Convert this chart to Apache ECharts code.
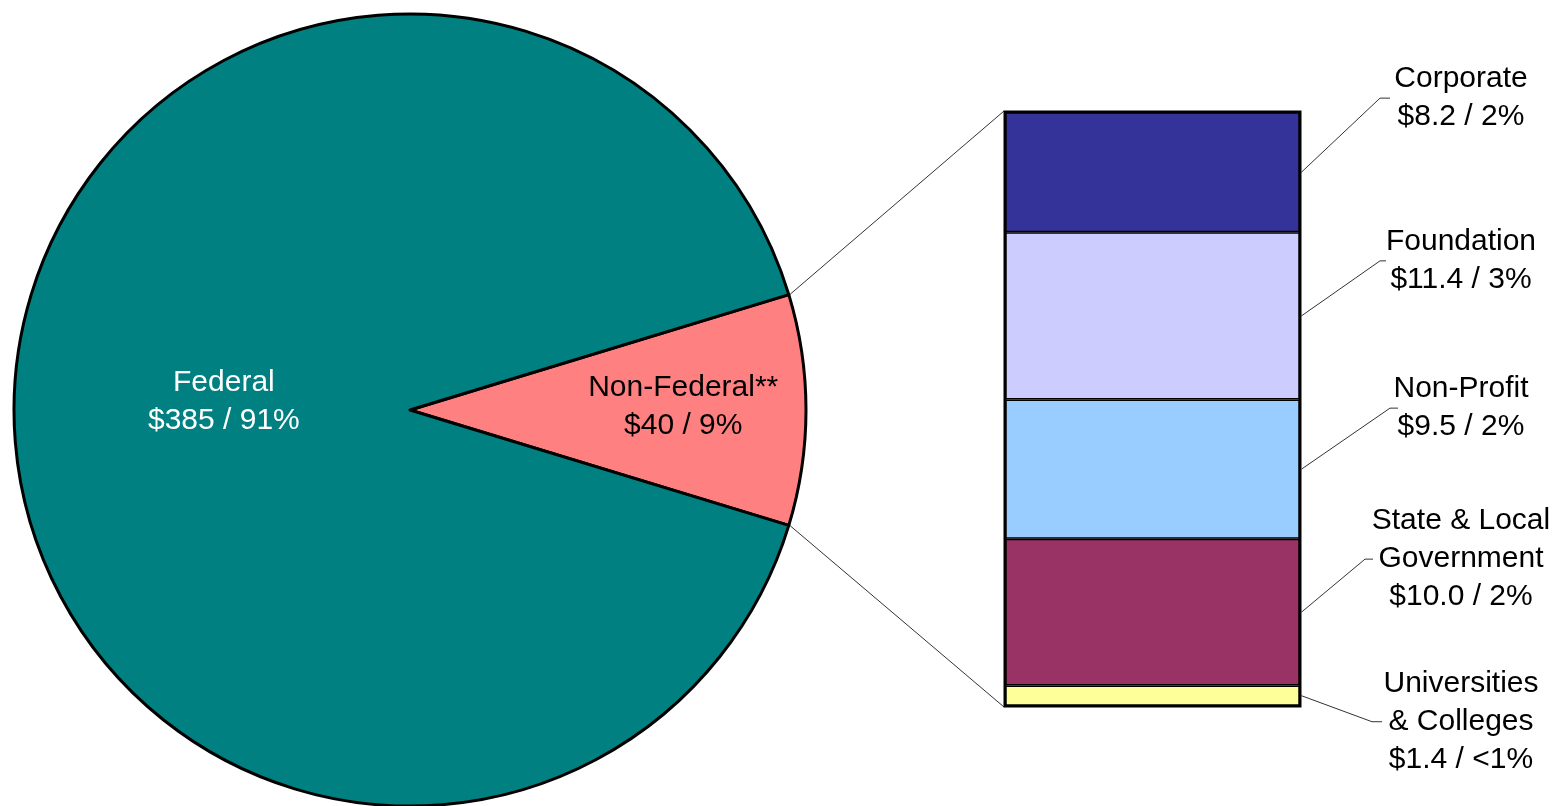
<!DOCTYPE html>
<html><head><meta charset="utf-8">
<script src="https://cdn.jsdelivr.net/npm/echarts@6/dist/echarts.min.js"></script>
<style>html,body{margin:0;padding:0;background:#fff;overflow:hidden}#c{width:1557px;height:806px}</style>
</head><body><div id="c"></div>
<script>
// ---- data ----
const pieNames = ['Non-Federal**', 'Federal'];
const pieValues = [40, 385];
const pieLabels = ['$40 / 9%', '$385 / 91%'];
// bottom to top of the stacked bar
const barNames = ['Universities\n& Colleges', 'State & Local\nGovernment', 'Non-Profit', 'Foundation', 'Corporate'];
const barValues = [1.4, 10.0, 9.5, 11.4, 8.2];
const barLabels = ['$1.4 / <1%', '$10.0 / 2%', '$9.5 / 2%', '$11.4 / 3%', '$8.2 / 2%'];

// ---- styles / layout ----
const FONT = "'Liberation Sans', Arial, sans-serif";
const pieColors = ['#FF8080', '#008080'];
const pieTextColors = ['#000', '#fff'];
const pieLabelRadius = [0.69, 0.47];   // fraction of radius along the slice's mid angle
const pieLabelDy = [-3, -8];
const barColors = ['#FFFF99', '#993366', '#99CCFF', '#CCCCFF', '#333399'];
const labelDy = [26, -53, -61, -55, -74];       // label offset from segment centre
const leaderX = [[72, 82], [65, 73], [90, 98], [80, 86], [80, 90]]; // diagonal end, horizontal end (from bar right)
const CX = 410, CY = 410, R = 396;
const G = {left: 1005, top: 112, width: 295, height: 594};
const LABEL_CX = 1461;

const total = pieValues.reduce((a, b) => a + b, 0);
const half = pieValues[0] / total * 180;
const barTotal = barValues.reduce((a, b) => a + b, 0);

// mid angles (radians, math convention) of the slices
const midAngles = [];
{
  let a = half;
  pieValues.forEach(v => { const span = v / total * 360; midAngles.push((a - span / 2) * Math.PI / 180); a -= span; });
}

const chart = echarts.init(document.getElementById('c'), null, {renderer: 'canvas'});

const series = [{
  type: 'pie',
  center: [CX, CY],
  radius: [0, R],
  startAngle: half,
  clockwise: true,
  animation: false,
  silent: true,
  data: pieNames.map((n, i) => ({
    name: n, value: pieValues[i],
    itemStyle: {color: pieColors[i]},
    label: {color: pieTextColors[i]}
  })),
  itemStyle: {borderColor: '#000', borderWidth: 3},
  label: {
    show: true, position: 'inside', fontFamily: FONT, fontSize: 30, lineHeight: 38,
    align: 'center', verticalAlign: 'middle',
    formatter: p => p.name + '\n' + pieLabels[p.dataIndex]
  },
  labelLayout: p => {
    const i = p.dataIndex, k = pieLabelRadius[i] * R;
    return {x: CX + k * Math.cos(midAngles[i]), y: CY - k * Math.sin(midAngles[i]) + pieLabelDy[i], align: 'center', verticalAlign: 'middle'};
  },
  emphasis: {disabled: true}
}];

barNames.forEach((n, i) => {
  series.push({
    type: 'bar', name: n, stack: 'nf', barWidth: '100%',
    animation: false, silent: true,
    data: [barValues[i]],
    itemStyle: {color: barColors[i], borderColor: '#000', borderWidth: 1.5},
    label: {
      show: true, position: 'right', distance: LABEL_CX - (G.left + G.width),
      align: 'center', verticalAlign: 'middle', offset: [0, labelDy[i]],
      fontFamily: FONT, fontSize: 30, lineHeight: 38, color: '#000',
      formatter: () => n + '\n' + barLabels[i]
    },
    emphasis: {disabled: true}
  });
});

chart.setOption({
  backgroundColor: '#fff',
  grid: G,
  xAxis: {type: 'category', data: [''], show: false},
  yAxis: {type: 'value', min: 0, max: barTotal, show: false},
  series: series
});

// ---- connector & leader lines, computed from the library's scales ----
const rad = half * Math.PI / 180;
const Rout = R + 1.5;
const pTop = [CX + Rout * Math.cos(rad), CY - Rout * Math.sin(rad)];
const pBot = [CX + Rout * Math.cos(rad), CY + Rout * Math.sin(rad)];
const yPix = v => chart.convertToPixel({xAxisIndex: 0, yAxisIndex: 0}, [0, v])[1];
const yTop = yPix(barTotal), yBot = yPix(0);
const graphics = [
  {type: 'line', shape: {x1: pTop[0], y1: pTop[1], x2: G.left - 1, y2: yTop - 1}, style: {stroke: '#333', lineWidth: 1}, silent: true},
  {type: 'line', shape: {x1: pBot[0], y1: pBot[1], x2: G.left - 1, y2: yBot + 1}, style: {stroke: '#333', lineWidth: 1}, silent: true},
  {type: 'rect', shape: {x: G.left, y: yTop, width: G.width, height: yBot - yTop}, style: {stroke: '#000', lineWidth: 3, fill: null}, silent: true, z: 10}
];
let cum = 0;
const right = G.left + G.width;
barValues.forEach((v, i) => {
  const yc = yPix(cum + v / 2);
  cum += v;
  const yl = yc + labelDy[i];
  graphics.push({
    type: 'polyline', silent: true,
    shape: {points: [[right + 1.5, yc], [right + leaderX[i][0], yl], [right + leaderX[i][1], yl]]},
    style: {stroke: '#333', lineWidth: 1, fill: null}
  });
});
chart.setOption({graphic: graphics});
</script>
</body></html>
